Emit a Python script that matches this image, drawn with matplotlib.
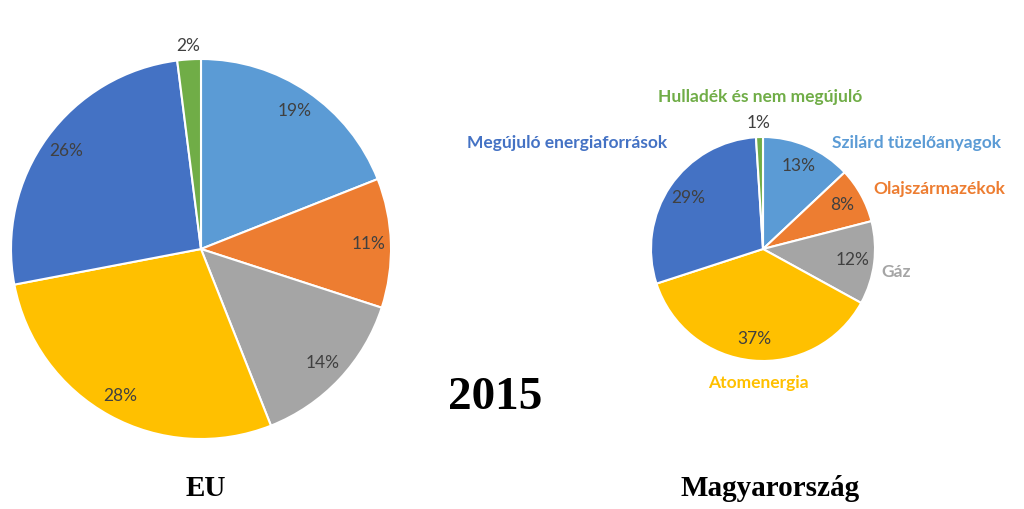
import matplotlib
matplotlib.use("Agg")
import matplotlib.pyplot as plt
import numpy as np

categories = ["Szilárd tüzelőanyagok", "Olajszármazékok", "Gáz", "Atomenergia",
              "Megújuló energiaforrások", "Hulladék és nem megújuló"]
eu_values = [19, 11, 14, 28, 26, 2]
hu_values = [13, 8, 12, 37, 29, 1]
colors = ["#5B9BD5", "#ED7D31", "#A5A5A5", "#FFC000", "#4472C4", "#70AD47"]
label_colors = ["#5B9BD5", "#ED7D31", "#A5A5A5", "#FFC000", "#4472C4", "#70AD47"]

W, H = 1024, 509
fig = plt.figure(figsize=(W / 100, H / 100), dpi=100)
ax = fig.add_axes([0, 0, 1, 1])
ax.set_xlim(0, W)
ax.set_ylim(0, H)
ax.set_aspect("equal")
ax.axis("off")

label_font = ["Lato", "DejaVu Sans"]


def draw_pie(values, center, radius, pctdist, smalldist):
    wedges, _ = ax.pie(values, colors=colors, startangle=90, counterclock=False,
                       center=center, radius=radius,
                       wedgeprops=dict(edgecolor="white", linewidth=1.5))
    for w, v in zip(wedges, values):
        ang = np.deg2rad((w.theta1 + w.theta2) / 2)
        d = smalldist if v <= 2 else pctdist
        ax.text(center[0] + d * radius * np.cos(ang),
                center[1] + d * radius * np.sin(ang),
                f"{v}%", ha="center", va="center", fontsize=12.5,
                color="#404040", family=label_font)
    return wedges


draw_pie(eu_values, (201, H - 249), 190, 0.88, 1.07)
draw_pie(hu_values, (763, H - 249), 112, 0.81, 1.13)
ax.set_xlim(0, W)
ax.set_ylim(0, H)

# category labels for the Hungarian pie
label_pos = [(917, 143), (939, 189), (896, 272), (758, 383), (567, 143), (760, 97)]
for name, (x, y), c in zip(categories, label_pos, label_colors):
    ax.text(x, H - y, name, ha="center", va="center", fontsize=12.5,
            fontweight="bold", color=c, family=label_font)

serif = ["Liberation Serif", "DejaVu Serif"]
ax.text(495, H - 398, "2015", ha="center", va="center", fontsize=34,
        fontweight="bold", family=serif, color="black")
ax.text(206, H - 488, "EU", ha="center", va="center", fontsize=21,
        fontweight="bold", family=serif, color="black")
ax.text(770, H - 488, "Magyarország", ha="center", va="center", fontsize=21,
        fontweight="bold", family=serif, color="black")

fig.savefig("out.png", dpi=100, facecolor="white")
